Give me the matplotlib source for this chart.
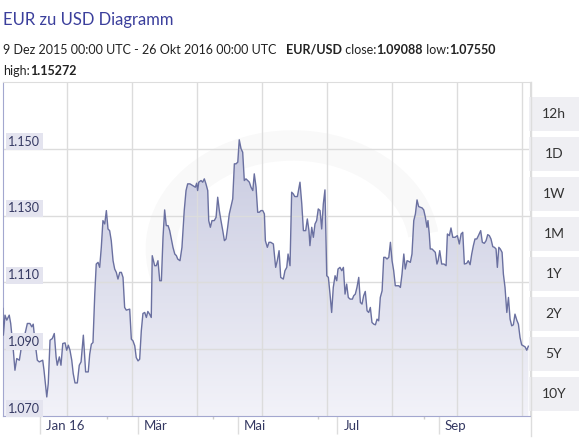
import numpy as np
import matplotlib
matplotlib.use('Agg')
from matplotlib import pyplot as plt
from matplotlib.patches import Rectangle, Arc
from matplotlib.lines import Line2D
from matplotlib.text import Annotation

# days since 9 Dez 2015, EUR/USD rate
days = [0, 0.4, 1.4, 2.5, 4.0, 4.9, 6.5, 7.5, 8.6, 10.2,
        11.0, 12.3, 13.7, 15.1, 16.7, 17.8, 18.7, 19.8, 21.2, 22.4,
        24.5, 25.3, 27.0, 27.9, 29.0, 30.4, 31.6, 32.7, 33.4, 34.7,
        35.7, 36.8, 38.2, 39.2, 40.2, 41.2, 42.3, 43.2, 44.3, 45.7,
        46.9, 48.0, 49.4, 50.8, 52.4, 53.3, 54.3, 55.3, 56.4, 57.3,
        58.4, 59.4, 60.4, 61.4, 62.5, 63.5, 64.5, 65.5, 66.5, 67.6,
        68.6, 69.6, 70.6, 71.7, 72.7, 73.7, 74.7, 75.7, 77.8, 78.8,
        79.8, 80.9, 81.8, 82.9, 83.9, 84.9, 85.9, 87.0, 88.0, 88.9,
        90.0, 91.0, 91.6, 93.1, 94.1, 95.1, 96.2, 97.2, 98.2, 99.2,
        100.2, 101.3, 102.3, 103.3, 104.3, 105.4, 106.4, 107.2, 108.6, 109.8,
        111.2, 112.3, 113.3, 114.7, 116.4, 118.0, 118.8, 119.4, 120.1, 121.5,
        122.5, 123.5, 124.5, 125.6, 126.2, 127.2, 128.2, 129.6, 130.7, 131.7,
        132.7, 133.7, 134.8, 135.8, 136.8, 137.8, 138.8, 140.9, 141.9, 142.9,
        144.0, 144.9, 146.0, 147.0, 148.0, 149.0, 150.1, 151.1, 152.1, 153.2,
        154.1, 155.2, 156.2, 157.2, 158.2, 159.3, 160.3, 160.9, 162.1, 163.1,
        164.2, 165.8, 167.2, 168.2, 169.3, 170.3, 171.9, 172.9, 174.0, 174.8,
        176.0, 177.0, 178.0, 178.9, 180.5, 182.1, 183.2, 184.2, 185.6, 186.6,
        187.6, 188.2, 189.3, 190.3, 191.3, 192.3, 193.3, 194.4, 195.4, 196.4,
        197.4, 198.5, 199.5, 200.5, 201.5, 202.5, 203.6, 204.6, 205.4, 206.6,
        207.7, 208.7, 209.7, 210.7, 211.7, 212.8, 214.2, 215.0, 216.0, 217.0,
        218.1, 219.1, 220.1, 221.1, 222.1, 223.2, 224.2, 225.2, 226.2, 227.3,
        228.3, 229.3, 230.3, 231.3, 232.4, 233.4, 234.4, 235.4, 236.5, 237.5,
        238.5, 239.5, 240.5, 241.5, 242.6, 243.6, 244.6, 245.7, 246.6, 247.7,
        248.7, 249.7, 250.7, 251.8, 252.8, 253.8, 254.8, 255.8, 256.9, 257.9,
        258.9, 259.9, 260.5, 261.3, 261.9, 263.0, 264.0, 265.0, 266.0, 266.7,
        267.7, 268.9, 270.3, 271.6, 272.4, 273.6, 274.6, 275.7, 277.1, 278.5,
        279.7, 280.8, 281.8, 282.8, 284.2, 285.2, 286.3, 287.3, 288.3, 289.3,
        290.4, 291.4, 292.8, 293.8, 295.0, 296.1, 297.1, 298.1, 299.1, 300.2,
        301.2, 302.2, 303.0, 303.9, 304.8, 305.9, 306.7, 307.7, 308.8, 309.8,
        310.8, 311.8, 312.8, 313.8, 314.9, 315.9, 316.9, 317.9, 319.0, 320.0,
        321.0, 322.0]

rate = [1.1022, 1.0942, 1.1002, 1.0987, 1.1002, 1.0977, 1.0897, 1.0837, 1.0872, 1.0867,
        1.0892, 1.0942, 1.0947, 1.0977, 1.0977, 1.0967, 1.0975, 1.0922, 1.0867, 1.0862,
        1.0867, 1.0837, 1.0757, 1.0797, 1.0927, 1.0932, 1.0947, 1.0877, 1.0852, 1.0877,
        1.0852, 1.0917, 1.0919, 1.0897, 1.0912, 1.0897, 1.0867, 1.0827, 1.0799, 1.0799,
        1.0852, 1.0862, 1.0942, 1.0832, 1.0832, 1.0885, 1.0915, 1.0920, 1.1065, 1.1155,
        1.1160, 1.1145, 1.1205, 1.1285, 1.1275, 1.1315, 1.1260, 1.1255, 1.1225, 1.1165,
        1.1140, 1.1130, 1.1110, 1.1130, 1.1130, 1.1115, 1.1025, 1.1017, 1.1020, 1.0930,
        1.0925, 1.0910, 1.0875, 1.0865, 1.0870, 1.0955, 1.1007, 1.1010, 1.0995, 1.1013,
        1.1005, 1.0995, 1.1180, 1.1150, 1.1150, 1.1165, 1.1105, 1.1105, 1.1235, 1.1317,
        1.1270, 1.1270, 1.1255, 1.1230, 1.1205, 1.1185, 1.1180, 1.1170, 1.1165, 1.1205,
        1.1315, 1.1375, 1.1395, 1.1395, 1.1390, 1.1385, 1.1397, 1.1375, 1.1400, 1.1405,
        1.1400, 1.1410, 1.1395, 1.1375, 1.1285, 1.1265, 1.1285, 1.1285, 1.1295, 1.1355,
        1.1315, 1.1285, 1.1255, 1.1225, 1.1230, 1.1265, 1.1305, 1.1350, 1.1455, 1.1455,
        1.1460, 1.1527, 1.1500, 1.1490, 1.1405, 1.1410, 1.1405, 1.1400, 1.1385, 1.1375,
        1.1425, 1.1385, 1.1310, 1.1310, 1.1315, 1.1315, 1.1305, 1.1225, 1.1205, 1.1220,
        1.1220, 1.1215, 1.1145, 1.1165, 1.1195, 1.1115, 1.1110, 1.1135, 1.1145, 1.1185,
        1.1150, 1.1370, 1.1365, 1.1357, 1.1357, 1.1400, 1.1335, 1.1255, 1.1255, 1.1290,
        1.1255, 1.1210, 1.1265, 1.1235, 1.1275, 1.1285, 1.1320, 1.1315, 1.1260, 1.1335,
        1.1377, 1.1120, 1.1115, 1.1065, 1.1010, 1.1085, 1.1120, 1.1105, 1.1140, 1.1145,
        1.1135, 1.1145, 1.1065, 1.1095, 1.1055, 1.1050, 1.1050, 1.1060, 1.1065, 1.1085,
        1.1115, 1.1040, 1.1035, 1.1060, 1.1073, 1.1015, 1.1010, 1.1025, 1.0980, 1.0975,
        1.0973, 1.0990, 1.0985, 1.1055, 1.1075, 1.1175, 1.1175, 1.1170, 1.1175, 1.1220,
        1.1165, 1.1135, 1.1090, 1.1090, 1.1090, 1.1085, 1.1125, 1.1185, 1.1140, 1.1165,
        1.1163, 1.1160, 1.1185, 1.1285, 1.1305, 1.1347, 1.1327, 1.1325, 1.1323, 1.1317,
        1.1295, 1.1265, 1.1285, 1.1245, 1.1200, 1.1200, 1.1195, 1.1190, 1.1155, 1.1165,
        1.1195, 1.1155, 1.1155, 1.1150, 1.1245, 1.1240, 1.1263, 1.1235, 1.1235, 1.1240,
        1.1215, 1.1245, 1.1250, 1.1155, 1.1157, 1.1165, 1.1153, 1.1185, 1.1210, 1.1230,
        1.1230, 1.1240, 1.1255, 1.1220, 1.1217, 1.1225, 1.1243, 1.1240, 1.1230, 1.1207,
        1.1205, 1.1200, 1.1145, 1.1205, 1.1200, 1.1190, 1.1125, 1.1085, 1.1010, 1.1055,
        1.0990, 1.0970, 1.0973, 1.1005, 1.0987, 1.0975, 1.0935, 1.0913, 1.0910, 1.0907,
        1.0897, 1.0909]

month_days = [23, 83, 144, 205, 267]          # 1 Jan, 1 Mar, 1 Mai, 1 Jul, 1 Sep
month_labels = ['Jan 16', 'Mär', 'Mai', 'Jul', 'Sep']
minor_days = [63.9, 128.8, 193.2, 258.1]
y_ticks = [1.070, 1.090, 1.110, 1.130, 1.150]
buttons = ['12h', '1D', '1W', '1M', '1Y', '2Y', '5Y', '10Y']

W, H = 588, 438
plt.rcParams['font.family'] = ['Lato', 'DejaVu Sans']
fig = plt.figure(figsize=(W / 100, H / 100), dpi=100)

def fx(px): return px / W
def fy(py): return 1 - py / H

# header
fig.text(fx(3), fy(25), 'EUR zu USD Diagramm', fontsize=12, color='#3b3f9c', va='baseline')
parts = [('EUR/USD', 'bold', 7), (' close:', 'normal', 0), ('1.09088', 'bold', 0),
         (' low:', 'normal', 0), ('1.07550', 'bold', 0)]
prev = fig.text(fx(3), fy(53.5), '9 Dez 2015 00:00 UTC - 26 Okt 2016 00:00 UTC',
                fontsize=9.0, color='#222222', va='baseline')
for txt, wt, gap in parts:
    prev = fig.add_artist(Annotation(
        txt, xy=(1, 0), xycoords=prev, xytext=(gap, 0), textcoords='offset points',
        fontsize=9.0, color='#222222', fontweight=wt, va='bottom', ha='left'))
h = fig.text(fx(3), fy(75), 'high:', fontsize=9.0, color='#222222', va='baseline')
fig.add_artist(Annotation(
    '1.15272', xy=(1, 0), xycoords=h, xytext=(0, 0), textcoords='offset points',
    fontsize=9.0, color='#222222', fontweight='bold', va='bottom', ha='left'))

# chart area
ax = fig.add_axes([fx(2.7), fy(416), fx(530 - 2.7), (416 - 82) / H])
ax.set_xlim(0, 323)
ax.set_ylim(1.070, 1.170)

# faint watermark ring
ax.add_patch(Arc((0.55, 0.5), 0.5, 0.62, transform=ax.transAxes, theta1=10, theta2=300,
                 lw=22, color='#000000', alpha=0.022, zorder=0))

# gradient fill under the line
poly = ax.fill_between(days, rate, 1.070, color='none', lw=0)
grad = np.linspace(0, 1, 256).reshape(-1, 1)
c_top = np.array([0.77, 0.78, 0.87])
c_bot = np.array([0.95, 0.95, 0.975])
img = (c_top + (c_bot - c_top) * grad).reshape(256, 1, 3)
im = ax.imshow(img, extent=[0, 323, 1.070, 1.160], aspect='auto', origin='upper', zorder=1)
im.set_clip_path(poly.get_paths()[0], transform=ax.transData)
ax.plot(days, rate, color='#6a70a0', lw=1.0, zorder=3)

# grid
for k in range(8):
    ax.axvline(39.4 + 39.8 * k, color='#dcdcdc', lw=1, zorder=2)
for v in [1.090, 1.110, 1.130, 1.150]:
    ax.axhline(v, color='#dcdcdc', lw=1, zorder=2)

for s in ['left', 'bottom']:
    ax.spines[s].set_color('#a3a7cf')
ax.spines['top'].set_color('#dddddd')
ax.spines['right'].set_color('#dddddd')

ax.set_yticks([])
ax.set_xticks(month_days)
ax.set_xticklabels([])
ax.set_xticks(minor_days, minor=True)
ax.tick_params(axis='x', which='major', length=13, width=1, color='#dddddd', direction='out')
ax.tick_params(axis='x', which='minor', length=2, width=1, color='#cccccc', direction='out')

for d, lab in zip(month_days, month_labels):
    ax.annotate(lab, xy=(d, 0), xycoords=ax.get_xaxis_transform(), xytext=(4.3, -7.3),
                textcoords='offset points', ha='left', va='center', fontsize=9.5,
                color='#343862', annotation_clip=False)

for v in y_ticks:
    ax.annotate(f'{v:.3f}', xy=(0, v), xycoords=ax.get_yaxis_transform(), xytext=(4, 5.2),
                textcoords='offset points', ha='left', va='center', fontsize=9, color='#343862',
                zorder=4, bbox=dict(boxstyle='square,pad=0.2', fc='#e4e4ef', ec='none'))

fig.add_artist(Line2D([fx(530.5), fx(530.5)], [fy(82), fy(436)], color='#dddddd', lw=1))

# range buttons
for i, b in enumerate(buttons):
    top = 97 + 40 * i
    fig.add_artist(Rectangle((fx(529), fy(top + 34)), fx(50), 34 / H, fc='#efeff3', ec='none',
                             transform=fig.transFigure))
    fig.text(fx(554), fy(top + 17), b, fontsize=10, color='#333333', ha='center', va='center')

fig.savefig('out.png', dpi=100, facecolor='white')
